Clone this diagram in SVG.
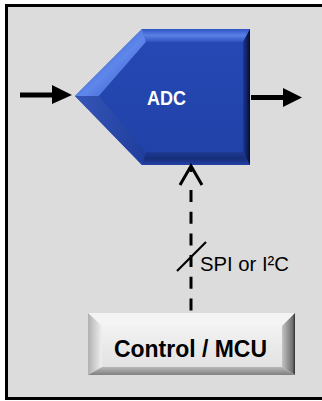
<svg xmlns="http://www.w3.org/2000/svg" width="322" height="401" viewBox="0 0 322 401">
<defs>
<style>
.lbl{font-family:"Liberation Sans",Arial,sans-serif;}
.conn{fill:none;stroke:#000;}
</style>
<linearGradient id="faceg" x1="0" y1="0" x2="0" y2="1">
<stop offset="0" stop-color="#2548b4"/>
<stop offset="1" stop-color="#2142a8"/>
</linearGradient>
<linearGradient id="topb" x1="0" y1="0" x2="0" y2="1">
<stop offset="0" stop-color="#2f55c4"/>
<stop offset="0.5" stop-color="#5a80e6"/>
<stop offset="1" stop-color="#2e52c0"/>
</linearGradient>
<linearGradient id="leftb" x1="0" y1="0" x2="1" y2="1">
<stop offset="0" stop-color="#2c50bf"/>
<stop offset="0.55" stop-color="#5f86ea"/>
<stop offset="1" stop-color="#2b4fbc"/>
</linearGradient>
<linearGradient id="botb" x1="0" y1="0" x2="0" y2="1">
<stop offset="0" stop-color="#1d3a95"/>
<stop offset="0.5" stop-color="#162d78"/>
<stop offset="1" stop-color="#2442a8"/>
</linearGradient>
<linearGradient id="rightb" x1="0" y1="0" x2="1" y2="0">
<stop offset="0" stop-color="#1c3790"/>
<stop offset="0.6" stop-color="#0e1f5c"/>
<stop offset="1" stop-color="#050c28"/>
</linearGradient>
<linearGradient id="llb" x1="0" y1="0" x2="1" y2="0">
<stop offset="0" stop-color="#3656b8"/>
<stop offset="1" stop-color="#1f3d9c"/>
</linearGradient>
<linearGradient id="cface" x1="0" y1="0" x2="0" y2="1">
<stop offset="0" stop-color="#f2f2f2"/>
<stop offset="1" stop-color="#e2e2e2"/>
</linearGradient>
<linearGradient id="cleft" x1="0" y1="0" x2="1" y2="0">
<stop offset="0" stop-color="#b0b0b0"/>
<stop offset="1" stop-color="#f0f0f0"/>
</linearGradient>
<linearGradient id="cright" x1="0" y1="0" x2="1" y2="0">
<stop offset="0" stop-color="#c4c4c4"/>
<stop offset="0.8" stop-color="#707070"/>
<stop offset="1" stop-color="#303030"/>
</linearGradient>
<linearGradient id="cbot" x1="0" y1="0" x2="0" y2="1">
<stop offset="0" stop-color="#b8b8b8"/>
<stop offset="1" stop-color="#808080"/>
</linearGradient>
</defs>
<rect x="0" y="0" width="322" height="401" fill="#ffffff"/>
<rect x="6.5" y="5.5" width="330" height="393" fill="#dcdcdc" stroke="#000" stroke-width="3"/>

<g id="adc">
<polygon points="75,96 142,29 250,29 250,165 142,165" fill="url(#faceg)"/>
<polygon points="142,29 250,29 243,42 146,42" fill="url(#topb)"/>
<polygon points="75,96 142,29 146,42 99,96" fill="url(#leftb)"/>
<polygon points="75,96 99,96 146,152 142,165" fill="url(#llb)"/>
<polygon points="146,152 243,152 250,165 142,165" fill="url(#botb)"/>
<polygon points="243,42 250,29 250,165 243,152" fill="url(#rightb)"/>
<polygon points="99,96 146,42 243,42 243,152 146,152" fill="url(#faceg)"/>
<text class="lbl" x="166.5" y="105" font-size="19.5" font-weight="bold" fill="#ffffff" text-anchor="middle" textLength="39" lengthAdjust="spacingAndGlyphs">ADC</text>
</g>

<g id="mcu">
<rect x="88" y="313" width="207" height="62" fill="url(#cface)"/>
<polygon points="88,313 295,313 282,326 102,326" fill="#f4f4f4"/>
<polygon points="88,313 102,326 102,367 88,375" fill="url(#cleft)"/>
<polygon points="282,326 295,313 295,375 282,367" fill="url(#cright)"/>
<polygon points="102,367 282,367 295,375 88,375" fill="url(#cbot)"/>
<rect x="102" y="326" width="180" height="41" fill="url(#cface)"/>
<text class="lbl" x="190.5" y="357" font-size="23" font-weight="bold" fill="#000" text-anchor="middle" textLength="153" lengthAdjust="spacingAndGlyphs">Control / MCU</text>
</g>

<g id="connectors">
<line x1="20" y1="95" x2="55" y2="95" class="conn" stroke-width="5"/>
<polygon points="52,85 72,95 52,104" fill="#000"/>
<line x1="251" y1="97.5" x2="285" y2="97.5" class="conn" stroke-width="5"/>
<polygon points="283,88 302,97.5 283,107" fill="#000"/>
<polyline points="180,185 191,166 202,185" class="conn" stroke-width="3"/>
<line x1="191" y1="166" x2="191" y2="172" class="conn" stroke-width="3"/>
<line x1="191" y1="190" x2="191" y2="313" class="conn" stroke-width="3" stroke-dasharray="12 9.7"/>
<line x1="177" y1="271" x2="206" y2="242" class="conn" stroke-width="2.2"/>
<text class="lbl" x="200" y="271" font-size="21" fill="#000" textLength="89" lengthAdjust="spacingAndGlyphs">SPI or I²C</text>
</g>
</svg>
